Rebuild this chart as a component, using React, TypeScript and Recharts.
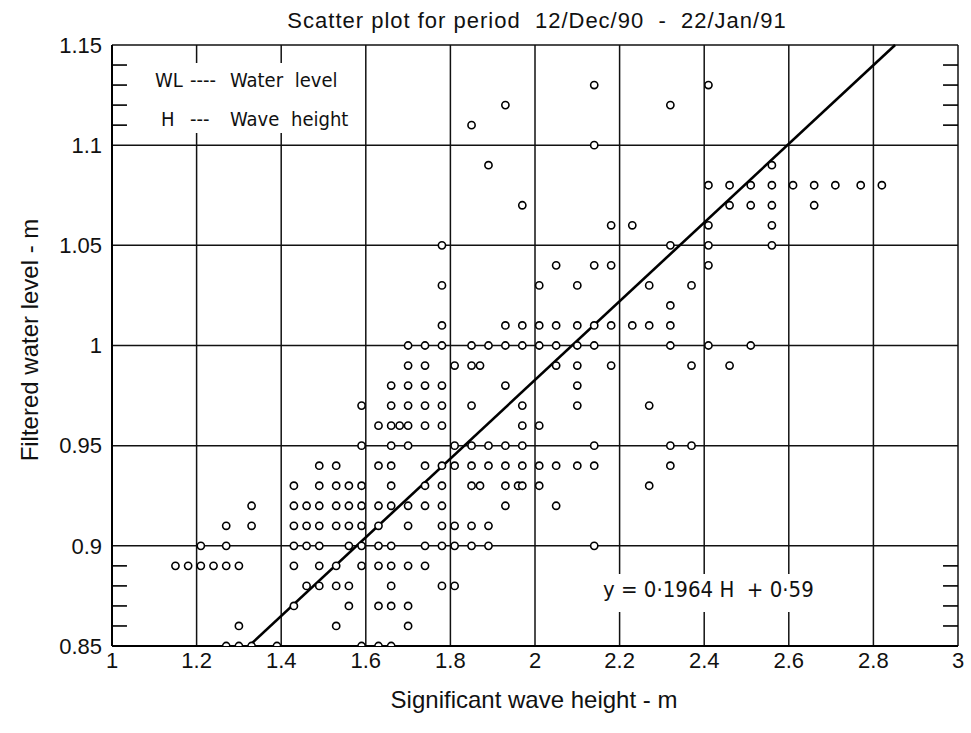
import { ScatterChart, Scatter, XAxis, YAxis, CartesianGrid, ReferenceLine } from "recharts";

// axis ticks
const xTicks = [1, 1.2, 1.4, 1.6, 1.8, 2, 2.2, 2.4, 2.6, 2.8, 3];
const yTicks = [0.85, 0.9, 0.95, 1, 1.05, 1.1, 1.15];
const minorYTicks = [0.86, 0.87, 0.88, 0.89, 1.11, 1.12, 1.13, 1.14];

// filtered water level (m) for each row of points
const waterLevels = [
  1.13, 1.12, 1.11, 1.1, 1.09, 1.08, 1.07, 1.06, 1.05, 1.04, 1.03, 1.02, 1.01, 1.0,
  0.99, 0.98, 0.97, 0.96, 0.95, 0.94, 0.93, 0.92, 0.91, 0.9, 0.89, 0.88, 0.87, 0.86, 0.85,
];

// significant wave heights (m) observed at each water level above
const waveHeights = [
  [2.14, 2.41],
  [1.93, 2.32],
  [1.85],
  [2.14],
  [1.89, 2.56],
  [2.41, 2.46, 2.51, 2.56, 2.61, 2.66, 2.71, 2.77, 2.82],
  [1.97, 2.46, 2.51, 2.56, 2.66],
  [2.18, 2.23, 2.41, 2.56],
  [1.78, 2.32, 2.41, 2.56],
  [2.05, 2.14, 2.18, 2.41],
  [1.78, 2.01, 2.1, 2.27, 2.37],
  [2.32],
  [1.78, 1.93, 1.97, 2.01, 2.05, 2.1, 2.14, 2.18, 2.23, 2.27, 2.32],
  [1.7, 1.74, 1.78, 1.85, 1.89, 1.93, 1.97, 2.01, 2.05, 2.1, 2.14, 2.32, 2.41, 2.51],
  [1.7, 1.74, 1.81, 1.85, 1.87, 2.05, 2.1, 2.18, 2.37, 2.46],
  [1.66, 1.7, 1.74, 1.78, 1.93, 2.1],
  [1.59, 1.66, 1.7, 1.74, 1.78, 1.85, 1.97, 2.1, 2.27],
  [1.63, 1.66, 1.68, 1.7, 1.74, 1.78, 1.97, 2.01],
  [1.59, 1.66, 1.7, 1.81, 1.85, 1.89, 1.93, 1.97, 2.14, 2.32, 2.37],
  [1.49, 1.53, 1.63, 1.66, 1.74, 1.78, 1.81, 1.85, 1.89, 1.93, 1.97, 2.01, 2.05, 2.1, 2.14, 2.32],
  [1.43, 1.49, 1.53, 1.56, 1.59, 1.66, 1.74, 1.78, 1.85, 1.87, 1.93, 1.96, 1.97, 2.01, 2.27],
  [1.33, 1.43, 1.46, 1.49, 1.53, 1.56, 1.59, 1.63, 1.66, 1.7, 1.74, 1.78, 1.93, 2.05],
  [1.27, 1.33, 1.43, 1.46, 1.49, 1.53, 1.56, 1.59, 1.63, 1.7, 1.78, 1.81, 1.85, 1.89],
  [1.21, 1.27, 1.43, 1.46, 1.49, 1.56, 1.59, 1.63, 1.66, 1.74, 1.78, 1.81, 1.85, 1.89, 2.14],
  [1.15, 1.18, 1.21, 1.24, 1.27, 1.3, 1.43, 1.49, 1.53, 1.59, 1.63, 1.66, 1.7, 1.74],
  [1.46, 1.49, 1.53, 1.56, 1.66, 1.78, 1.81],
  [1.43, 1.56, 1.63, 1.66, 1.7],
  [1.3, 1.53, 1.7],
  [1.27, 1.3, 1.33, 1.39, 1.59, 1.63, 1.66],
];

// fitted line y = 0.1964 H + 0.59
const slope = 0.1964;
const intercept = 0.59;

const points = waterLevels.flatMap((wl, i) => waveHeights[i].map((h) => ({ h, wl })));

const fitStart = { x: (0.85 - intercept) / slope, y: 0.85 };
const fitEnd = { x: (1.15 - intercept) / slope, y: 1.15 };

const tickLen = 0.0354; // ~15px in x units

const OpenCircle = (props: any) => (
  <circle cx={props.cx} cy={props.cy} r={3.6} fill="#fff" stroke="#000" strokeWidth={1.6} />
);

const sans = "'Liberation Sans', Arial, sans-serif";
const lettering = "'DejaVu Sans Condensed', 'DejaVu Sans', sans-serif";

export default function App() {
  return (
    <div style={{ position: "absolute", left: 0, top: 0, width: 971, height: 733, background: "#fff" }}>
      <ScatterChart width={971} height={733} margin={{ top: 45, right: 13, left: 0, bottom: 0 }}>
        <CartesianGrid stroke="#111" strokeWidth={1.5} />
        <XAxis
          type="number"
          dataKey="h"
          domain={[1, 3]}
          ticks={xTicks}
          height={87}
          tickLine={false}
          tickSize={0}
          tickMargin={6}
          axisLine={{ stroke: "#000", strokeWidth: 2 }}
          tick={{ fill: "#111", fontSize: 22, fontFamily: sans }}
        />
        <YAxis
          type="number"
          dataKey="wl"
          domain={[0.85, 1.15]}
          ticks={yTicks}
          width={112}
          tickLine={false}
          tickSize={0}
          tickMargin={10}
          allowDataOverflow
          axisLine={{ stroke: "#000", strokeWidth: 2 }}
          tick={{ fill: "#111", fontSize: 22, fontFamily: sans }}
        />
        {minorYTicks.map((v) => (
          <ReferenceLine
            key={"l" + v}
            segment={[{ x: 1, y: v }, { x: 1 + tickLen, y: v }]}
            stroke="#000"
            strokeWidth={1.6}
          />
        ))}
        {minorYTicks.map((v) => (
          <ReferenceLine
            key={"r" + v}
            segment={[{ x: 3 - tickLen, y: v }, { x: 3, y: v }]}
            stroke="#000"
            strokeWidth={1.6}
          />
        ))}
        <Scatter data={points} shape={OpenCircle} isAnimationActive={false} />
        <ReferenceLine segment={[fitStart, fitEnd]} stroke="#000" strokeWidth={2.6} />
      </ScatterChart>

      <div
        style={{
          position: "absolute",
          left: 0,
          width: 1074,
          top: 8,
          textAlign: "center",
          fontFamily: sans,
          fontSize: 22,
          letterSpacing: 1,
          color: "#111",
          whiteSpace: "pre",
        }}
      >
        {"Scatter plot for period  12/Dec/90  -  22/Jan/91"}
      </div>

      {/* key box */}
      <div style={{ position: "absolute", left: 140, top: 63, width: 215, height: 70, background: "#fff" }} />
      <div style={{ position: "absolute", top: 68, left: 155, fontFamily: lettering, fontSize: 20, color: "#111" }}>WL</div>
      <div style={{ position: "absolute", top: 68, left: 190, fontFamily: lettering, fontSize: 20, color: "#111" }}>----</div>
      <div style={{ position: "absolute", top: 68, left: 230, fontFamily: lettering, fontSize: 20, color: "#111", wordSpacing: 6 }}>Water level</div>
      <div style={{ position: "absolute", top: 107, left: 161, fontFamily: lettering, fontSize: 20, color: "#111" }}>H</div>
      <div style={{ position: "absolute", top: 107, left: 190, fontFamily: lettering, fontSize: 20, color: "#111" }}>---</div>
      <div style={{ position: "absolute", top: 107, left: 230, fontFamily: lettering, fontSize: 20, color: "#111", wordSpacing: 6 }}>Wave height</div>

      {/* equation box */}
      <div style={{ position: "absolute", left: 590, top: 574, width: 232, height: 38, background: "#fff" }} />
      <div
        style={{
          position: "absolute",
          left: 603,
          top: 577,
          fontFamily: lettering,
          fontSize: 22,
          color: "#111",
          whiteSpace: "pre",
        }}
      >
        {"y = 0·1964 H  + 0·59"}
      </div>

      <div
        style={{
          position: "absolute",
          left: 0,
          width: 1068,
          top: 686,
          textAlign: "center",
          fontFamily: sans,
          fontSize: 24,
          color: "#111",
        }}
      >
        Significant wave height - m
      </div>
      <div
        style={{
          position: "absolute",
          left: 30,
          top: 340,
          transform: "translate(-50%, -50%) rotate(-90deg)",
          fontFamily: sans,
          fontSize: 24,
          color: "#111",
          whiteSpace: "nowrap",
        }}
      >
        Filtered water level - m
      </div>
    </div>
  );
}
